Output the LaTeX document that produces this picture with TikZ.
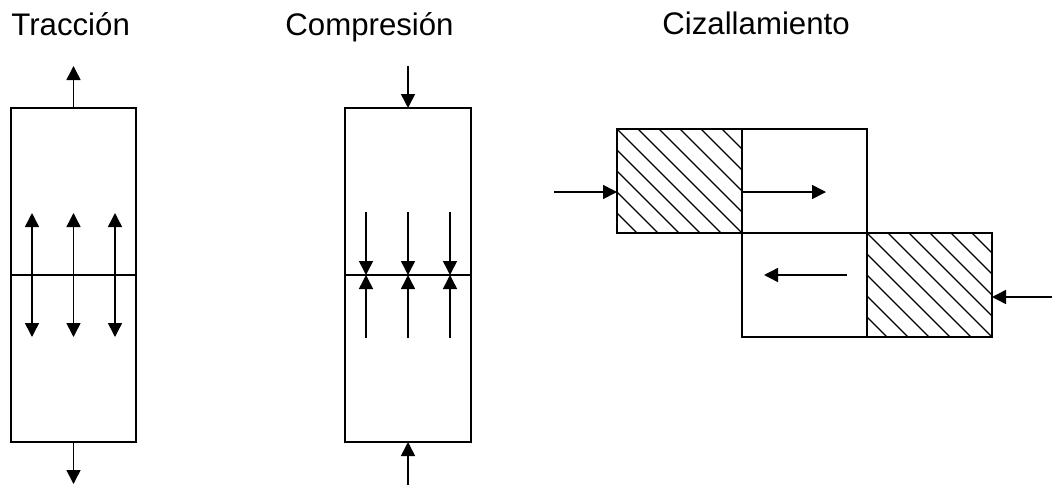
\documentclass[tikz,border=0pt]{standalone}
\usepackage{fontspec}
\setmainfont{Liberation Sans}
\usetikzlibrary{arrows.meta,positioning,calc}
\tikzset{
  >={Triangle[length=7pt,width=7pt]},
  every node/.style={font=\fontsize{15.6}{18}\selectfont},
  title/.style={anchor=base west,inner sep=0pt},
  bar/.style={draw,line width=0.7pt,inner sep=0pt,outer sep=0pt,minimum width=62.5pt,minimum height=167pt},
  blockbox/.style={draw,line width=0.7pt,inner sep=0pt,outer sep=0pt,minimum width=62.5pt,minimum height=52pt},
  force/.style={->,line width=0.75pt},
  stress/.style={line width=0.7pt},
  hatch/.style={line width=0.55pt},
}

\begin{document}
\begin{tikzpicture}[x=0.5pt,y=-0.5pt]
\useasboundingbox (0,0) rectangle (1052,487);

% titles
\node[title] (ttrac) at (11,35) {Tracción};
\node[title] (tcomp) at (285,35) {Compresión};
\node[title] (tciz) at (662,34) {Cizallamiento};

% tension bar
\node[bar] (trac) at (73.5,275) {};
\draw[stress] (trac.west) -- (trac.east);
\coordinate (trac up) at (73.5,66);
\coordinate (trac dn) at (73.5,484);
\draw[force] (trac.north) -- (trac up);
\draw[force] (trac.south) -- (trac dn);
\foreach \dx in {-41.5,0,41.5}{
  \coordinate (ta) at ($(trac.center)+(\dx,-62)$);
  \coordinate (tb) at ($(trac.center)+(\dx,62)$);
  \draw[force,<->] (ta) -- (tb);
}

% compression bar
\node[bar,minimum width=63pt] (comp) at (408,275) {};
\draw[stress] (comp.west) -- (comp.east);
\coordinate (comp up) at (408,66);
\coordinate (comp dn) at (408,485);
\draw[force] (comp up) -- (comp.north);
\draw[force] (comp dn) -- (comp.south);
\foreach \dx in {-42,0,42}{
  \coordinate (ca) at ($(comp.center)+(\dx,-63)$);
  \coordinate (cb) at ($(comp.center)+(\dx,63)$);
  \coordinate (cm) at ($(comp.center)+(\dx,0)$);
  \draw[force] (ca) -- (cm);
  \draw[force] (cb) -- (cm);
}

% shear blocks
\node[blockbox] (sh1) at (679.5,181) {};
\node[blockbox,right=0pt of sh1] (sw1) {};
\node[blockbox,below=0pt of sw1] (sw2) {};
\node[blockbox,right=0pt of sw2] (sh2) {};

\foreach \blk in {sh1,sh2}{
  \begin{scope}
    \clip (\blk.north west) rectangle (\blk.south east);
    \foreach \k in {-6,...,6}
      \draw[hatch] ($(\blk.north west)+(21*\k,0)$) -- ++(220,220);
  \end{scope}
}

\coordinate (push l) at (554,192);
\coordinate (slide r) at (826,192);
\coordinate (slide rs) at (sw1.west |- slide r);
\coordinate (slide l) at (764,275);
\coordinate (slide ls) at (847,275);
\coordinate (push r) at (1052,297);
\draw[force] (push l) -- (sh1.west |- push l);
\draw[force] (slide rs) -- (slide r);
\draw[force] (slide ls) -- (slide l);
\draw[force] (push r) -- (sh2.east |- push r);

\end{tikzpicture}
\end{document}
